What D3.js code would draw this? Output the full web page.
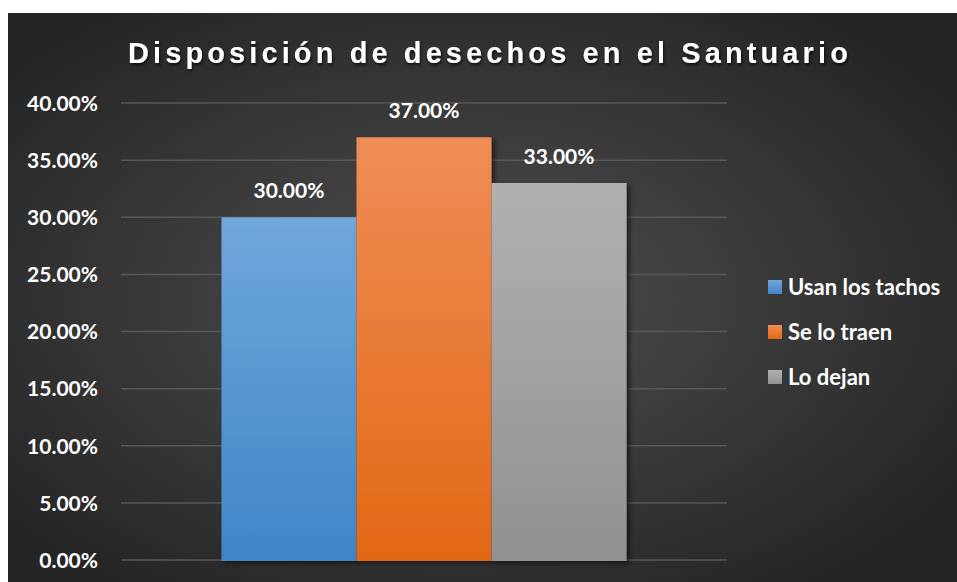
<!DOCTYPE html>
<html>
<head>
<meta charset="utf-8">
<script src="https://cdn.jsdelivr.net/npm/d3@7"></script>
<style>
  body { margin: 0; background: #fff; }
  svg { display: block; }
</style>
</head>
<body>
<svg width="957" height="582"></svg>
<script>
var series = ["Usan los tachos", "Se lo traen", "Lo dejan"];
var values = [0.30, 0.37, 0.33];
var tickValues = [0, 0.05, 0.10, 0.15, 0.20, 0.25, 0.30, 0.35, 0.40];
var colorsTop = ["#70a7dc", "#f08d57", "#b1b1b1"];
var colorsBottom = ["#3f86c8", "#e26815", "#919191"];

var svg = d3.select("svg");
var width = +svg.attr("width");
var height = +svg.attr("height");

var defs = svg.append("defs");

var bg = defs.append("radialGradient")
    .attr("id", "bg")
    .attr("cx", "48%").attr("cy", "50%").attr("r", "62%");
bg.append("stop").attr("offset", "0%").attr("stop-color", "#505050");
bg.append("stop").attr("offset", "100%").attr("stop-color", "#252525");

series.forEach(function (s, i) {
    var g = defs.append("linearGradient")
        .attr("id", "bar" + i)
        .attr("x1", 0).attr("y1", 0).attr("x2", 0).attr("y2", 1);
    g.append("stop").attr("offset", "0%").attr("stop-color", colorsTop[i]);
    g.append("stop").attr("offset", "100%").attr("stop-color", colorsBottom[i]);
});

var shadow = defs.append("filter").attr("id", "shadow")
    .attr("x", "-10%").attr("y", "-10%").attr("width", "130%").attr("height", "130%");
shadow.append("feDropShadow")
    .attr("dx", 3).attr("dy", 2).attr("stdDeviation", 2.5)
    .attr("flood-color", "#000").attr("flood-opacity", 0.55);

var tshadow = defs.append("filter").attr("id", "tshadow")
    .attr("x", "-5%").attr("y", "-20%").attr("width", "110%").attr("height", "150%");
tshadow.append("feDropShadow")
    .attr("dx", 1).attr("dy", 2).attr("stdDeviation", 1.5)
    .attr("flood-color", "#000").attr("flood-opacity", 0.7);

// chart area
svg.append("rect")
    .attr("x", 8).attr("y", 13)
    .attr("width", width - 8).attr("height", height - 13)
    .style("fill", "url(#bg)");

var plot = { left: 121, right: 727, top: 103, bottom: 560 };

var y = d3.scaleLinear().domain([0, 0.40]).range([plot.bottom, plot.top]);
var xBand = d3.scaleBand().domain(["g"]).range([plot.left, plot.right]).paddingInner(0).paddingOuter(0.248);
var x = d3.scaleBand().domain(series).range([xBand("g"), xBand("g") + xBand.bandwidth()]).padding(0);

var fmt = d3.format(".2%");
var labelFont = "Lato, 'Open Sans', sans-serif";

// gridlines
svg.append("g").selectAll("line")
    .data(tickValues)
    .enter().append("line")
    .attr("x1", plot.left).attr("x2", plot.right)
    .attr("y1", function (d) { return y(d); })
    .attr("y2", function (d) { return y(d); })
    .style("stroke", "#585858")
    .style("stroke-width", 1.5);

// y axis labels
var yAxis = d3.axisLeft(y).tickValues(tickValues).tickFormat(fmt).tickSize(0).tickPadding(0);
var ax = svg.append("g")
    .attr("transform", "translate(98,0)")
    .call(yAxis);
ax.select(".domain").remove();
ax.selectAll("text")
    .attr("dy", "0.35em")
    .style("font-family", labelFont)
    .style("font-weight", "bold")
    .style("font-size", "21px")
    .style("fill", "#fff");

// bars
svg.append("g").selectAll("rect")
    .data(values)
    .enter().append("rect")
    .attr("x", function (d, i) { return x(series[i]); })
    .attr("y", function (d) { return y(d); })
    .attr("width", x.bandwidth())
    .attr("height", function (d) { return plot.bottom + 1 - y(d); })
    .attr("filter", "url(#shadow)")
    .style("fill", function (d, i) { return "url(#bar" + i + ")"; });

// data labels
svg.append("g").selectAll("text")
    .data(values)
    .enter().append("text")
    .attr("x", function (d, i) { return x(series[i]) + x.bandwidth() / 2; })
    .attr("y", function (d) { return y(d) - 19; })
    .attr("text-anchor", "middle")
    .style("font-family", labelFont)
    .style("font-weight", "bold")
    .style("font-size", "21px")
    .style("fill", "#fff")
    .text(function (d) { return fmt(d); });

// title
svg.append("text")
    .attr("x", 490).attr("y", 63)
    .attr("text-anchor", "middle")
    .attr("filter", "url(#tshadow)")
    .style("font-family", "'Liberation Sans', Arial, sans-serif")
    .style("font-weight", "bold")
    .style("font-size", "29px")
    .style("letter-spacing", "4.1px")
    .style("fill", "#fff")
    .text("Disposición de desechos en el Santuario");

// legend
var legend = svg.append("g").selectAll("g")
    .data(series)
    .enter().append("g")
    .attr("transform", function (d, i) { return "translate(768," + (280 + i * 45) + ")"; });
legend.append("rect")
    .attr("width", 14).attr("height", 14)
    .style("fill", function (d, i) { return "url(#bar" + i + ")"; });
legend.append("text")
    .attr("x", 20).attr("y", 7)
    .attr("dy", "0.35em")
    .style("font-family", labelFont)
    .style("font-weight", "bold")
    .style("font-size", "22px")
    .style("fill", "#fff")
    .text(function (d) { return d; });
</script>
</body>
</html>
